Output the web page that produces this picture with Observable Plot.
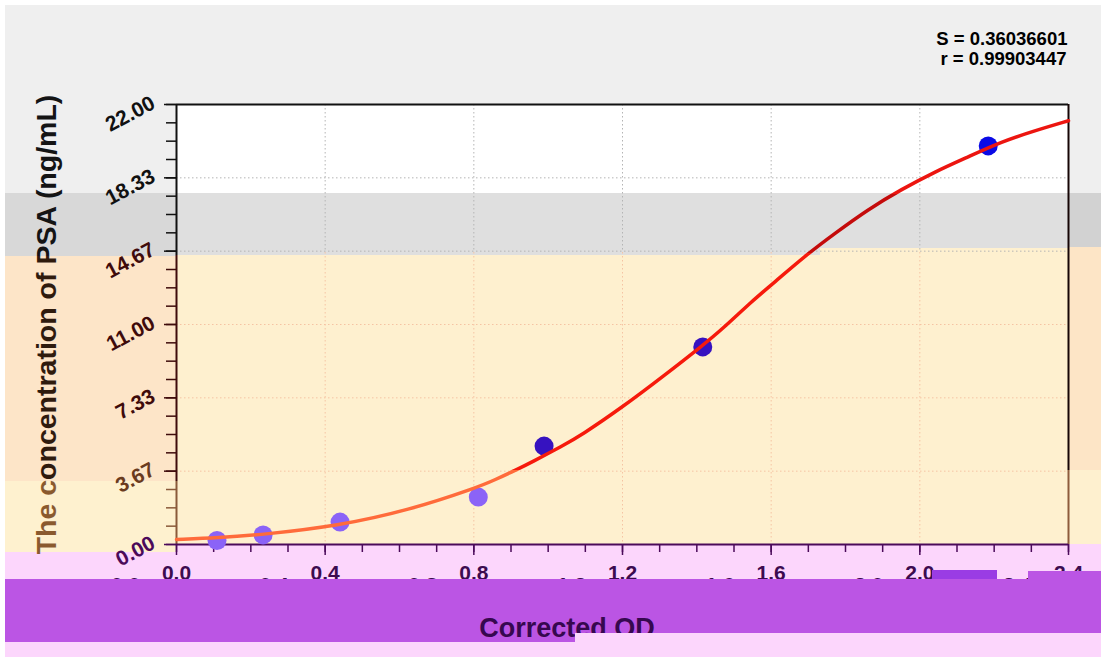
<!DOCTYPE html>
<html><head><meta charset="utf-8">
<script src="https://cdn.jsdelivr.net/npm/d3@7"></script>
<script src="https://cdn.jsdelivr.net/npm/@observablehq/plot@0.6"></script>
<style>
html,body{margin:0;padding:0;background:#fff;}
#wrap{position:relative;width:1101px;height:659px;overflow:hidden;font-family:"Liberation Sans",Arial,sans-serif;}
.bx{position:absolute;}
#chart{position:absolute;left:0;top:0;z-index:1;}
#xtitle{position:absolute;z-index:3;font-weight:bold;font-size:27px;line-height:27px;color:#36084f;white-space:nowrap;}
</style></head><body><div id="wrap"><div id="chart"></div></div>
<script>
// ---------- data ----------
const calX = [0.109, 0.233, 0.44, 0.812, 0.989, 1.416, 2.184];
const calY = [0.20, 0.48, 1.12, 2.37, 4.92, 9.88, 19.93];
const fitX = [0.00, 0.112, 0.235, 0.434, 0.623, 0.812, 0.855, 0.916, 0.954, 1.04, 1.088, 1.20, 1.313, 1.416, 1.465, 1.551, 1.605, 1.699, 1.771, 1.86, 1.95, 2.04, 2.13, 2.22, 2.309, 2.40];
const fitY = [0.25, 0.33, 0.50, 0.93, 1.70, 2.87, 3.22, 3.75, 4.10, 4.95, 5.45, 6.87, 8.46, 9.96, 10.71, 12.21, 13.05, 14.55, 15.55, 16.75, 17.75, 18.63, 19.38, 20.14, 20.69, 21.19];
const yTickValues = [0, 3.6667, 7.3333, 11, 14.6667, 18.3333, 22];
const yTickLabels = ["0.00", "3.67", "7.33", "11.00", "14.67", "18.33", "22.00"];
const xTickValues = [0, 0.4, 0.8, 1.2, 1.6, 2.0, 2.4];
const xTickLabels = ["0.0", "0.4", "0.8", "1.2", "1.6", "2.0", "2.4"];
const xGridValues = [0.4, 0.8, 1.2, 1.6, 2.0];
const yGridValues = [3.6667, 7.3333, 11, 14.6667, 18.3333];
const statLines = ["S = 0.36036601", "r = 0.99903447"];
const xTitle = "Corrected OD";
const yTitle = "The concentration of PSA (ng/mL)";

// ---------- layout / style ----------
const W = 1101, H = 659;
const FONT = '"Liberation Sans", Arial, sans-serif';
const yMinor = d3.range(25).map(i => i * 22 / 24);
const xMinor = d3.range(25).map(i => +(i * 0.1).toFixed(2));
const tickColor = v => v > 14.4 ? "#111111" : v > 3.15 ? "#3f0b0b" : v > 0.05 ? "#8a5a3a" : "#4b0a5a";
const labelColor = v => v > 15 ? "#111111" : v > 5 ? "#3f0b0b" : v > 0.05 ? "#6a3a1e" : "#4b0a5a";
const dotColor = v => v > 15 ? "#0a0ae6" : v > 3.2 ? "#3612c0" : "#8b63f7";
const fmtY = d => yTickLabels[yTickValues.indexOf(d)];
const fmtX = d => xTickLabels[xTickValues.indexOf(d)];

const wrap = document.getElementById("wrap");
function box(l, t, r, b, color, z) {
  const d = document.createElement("div");
  d.className = "bx";
  d.style.cssText = `left:${l}px;top:${t}px;width:${r - l}px;height:${b - t}px;background:${color};z-index:${z};`;
  wrap.appendChild(d);
}
// backgrounds (behind the svg)
box(5, 5, 1101, 193, "#efefef", 0);
box(176, 104, 1068, 193, "#ffffff", 0);
box(5, 193, 176, 256, "#d8d8d8", 0);
box(5, 256, 176, 481, "#fde5c8", 0);
box(5, 481, 176, 552, "#fef1cf", 0);
box(5, 552, 176, 579, "#fcd6fc", 0);
box(176, 193, 820, 255, "#dfdfdf", 0);
box(820, 193, 1068, 248, "#dfdfdf", 0);
box(176, 255, 820, 544, "#fef0cf", 0);
box(820, 248, 1068, 544, "#fef0cf", 0);
box(176, 544, 1068, 579, "#fcd6fc", 0);
box(1068, 193, 1101, 247, "#d2d2d2", 0);
box(1068, 247, 1101, 470, "#fde5c6", 0);
box(1068, 470, 1101, 544, "#fef0cf", 0);
box(1068, 544, 1101, 579, "#fcd6fc", 0);
// overlays (above the svg)
box(5, 579, 1101, 642, "#bb55e4", 2);
box(1028, 571, 1101, 579, "#bb55e4", 2);
box(932, 570, 997, 579, "#9a3ce4", 2);
box(5, 642, 1101, 657, "#fcd6fc", 4);
box(575, 633, 1101, 642, "#fcd6fc", 4);

const idx = d3.range(calX.length);
const fidx = d3.range(fitX.length);

const marks = [
  Plot.gridX(xGridValues, {stroke: "url(#gridGrad)", strokeOpacity: 1, strokeWidth: 1, strokeDasharray: "1.5,2.5"}),
  Plot.gridY(yGridValues, {stroke: "url(#gridGrad)", strokeOpacity: 1, strokeWidth: 1, strokeDasharray: "1.5,2.5"}),
  Plot.ruleY([22], {stroke: "#111", strokeWidth: 2}),
  Plot.ruleX([2.4], {stroke: "url(#rightGrad)", strokeWidth: 2}),
  Plot.ruleX([0], {stroke: "url(#axisGrad)", strokeWidth: 2}),
  Plot.ruleY([0], {stroke: "#4b0a5a", strokeWidth: 2}),
];
// y ticks by colour band
for (const [c, vals] of d3.groups(yMinor, tickColor)) {
  marks.push(Plot.axisY({ticks: vals, tickSize: 10, tickFormat: () => "", stroke: c, strokeWidth: 1.5, label: null}));
}
for (const [c, vals] of d3.groups(yTickValues, tickColor)) {
  marks.push(Plot.axisY({ticks: vals, tickSize: 12, tickFormat: () => "", stroke: c, strokeWidth: 1.5, label: null}));
}
for (const [c, vals] of d3.groups(yTickValues, labelColor)) {
  marks.push(Plot.axisY({ticks: vals, tickSize: 0, tickPadding: 23, tickRotate: -28, tickFormat: fmtY, fill: c,
    fontSize: 21, fontWeight: "bold", dy: -3, label: null}));
}
// x ticks
marks.push(Plot.axisX({ticks: xMinor, tickSize: 8, tickFormat: () => "", stroke: "#4b0a5a", strokeWidth: 1.5, label: null}));
marks.push(Plot.axisX({ticks: xTickValues, tickSize: 11, tickFormat: () => "", stroke: "#4b0a5a", strokeWidth: 1.5, label: null}));
marks.push(Plot.axisX({ticks: xTickValues, tickSize: 0, tickPadding: 21, tickFormat: fmtX, fill: "#3c0b50",
  fontSize: 21, fontWeight: "bold", label: null}));
// ghost copy of x labels (mostly hidden by band)
marks.push(Plot.text(xTickValues, {x: d => d, frameAnchor: "bottom", lineAnchor: "top", dy: 33, dx: -51,
  text: fmtX, fill: "#3c0b50", fontSize: 21, fontWeight: "bold"}));
// data
marks.push(Plot.dot(idx, {x: i => calX[i], y: i => calY[i], r: 9.5, fill: i => dotColor(calY[i]), stroke: "none"}));
marks.push(Plot.line(fidx, {x: i => fitX[i], y: i => fitY[i], stroke: "url(#curveGrad)", strokeWidth: 3.5, curve: "basis"}));
// texts
marks.push(Plot.text([yTitle], {text: d => d, frameAnchor: "left", rotate: -90, dx: -130, textAnchor: "middle",
  lineAnchor: "middle", fontSize: 28.5, fontWeight: "bold", fill: "url(#titleGrad)"}));
marks.push(Plot.text([statLines[0]], {text: d => d, frameAnchor: "top-right", textAnchor: "end", lineAnchor: "middle",
  dx: -1, dy: -65, fontSize: 18.5, fontWeight: "bold", fill: "#000"}));
marks.push(Plot.text([statLines[1]], {text: d => d, frameAnchor: "top-right", textAnchor: "end", lineAnchor: "middle",
  dx: -2, dy: -45, fontSize: 18.5, fontWeight: "bold", fill: "#000"}));

const svg = Plot.plot({
  width: W, height: H,
  marginLeft: 176, marginRight: 33, marginTop: 104, marginBottom: 115,
  x: {domain: [0, 2.4], label: null},
  y: {domain: [0, 22], label: null},
  color: {type: "identity"},
  style: {background: "none", overflow: "visible", fontFamily: FONT},
  marks
});

const defs = d3.select(svg).insert("defs", ":first-child");
function vGrad(id, bands) {
  const g = defs.append("linearGradient").attr("id", id).attr("gradientUnits", "userSpaceOnUse")
    .attr("x1", 0).attr("y1", 0).attr("x2", 0).attr("y2", H);
  for (const [a, b, c] of bands) {
    g.append("stop").attr("offset", a / H).attr("stop-color", c);
    g.append("stop").attr("offset", b / H).attr("stop-color", c);
  }
}
vGrad("axisGrad", [[0, 255, "#111111"], [255, 481, "#3f0b0b"], [481, 545, "#8a5a3a"], [545, H, "#4b0a5a"]]);
vGrad("rightGrad", [[0, 470, "#160606"], [470, 545, "#8d5b3c"], [545, H, "#4b0a5a"]]);
vGrad("gridGrad", [[0, 252, "#b4b4b4"], [252, H, "#f5c3a3"]]);
vGrad("curveGrad", [[0, 193, "#ec1510"], [193, 252, "#c40b0b"], [252, 470, "#f61a0c"], [470, H, "#ff6b3b"]]);
const tg = defs.append("linearGradient").attr("id", "titleGrad").attr("x1", 0).attr("y1", 0).attr("x2", 1).attr("y2", 0);
[[0, "#8a5a2e"], [0.159, "#8a5a2e"], [0.159, "#2f1b0d"], [0.648, "#2f1b0d"], [0.648, "#141414"], [1, "#141414"]]
  .forEach(([o, c]) => tg.append("stop").attr("offset", o).attr("stop-color", c));

document.getElementById("chart").appendChild(svg);

const xt = document.createElement("div");
xt.id = "xtitle";
xt.textContent = xTitle;
xt.style.left = "567px";
xt.style.top = "615px";
xt.style.transform = "translateX(-50%)";
wrap.appendChild(xt);
</script></body></html>
